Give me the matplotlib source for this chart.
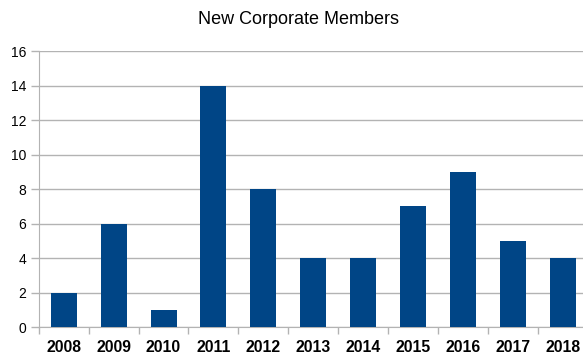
import matplotlib
matplotlib.use("Agg")
import matplotlib.pyplot as plt
import numpy as np

plt.rcParams["font.family"] = ["Liberation Sans", "DejaVu Sans"]

years = ["2008", "2009", "2010", "2011", "2012", "2013", "2014", "2015", "2016", "2017", "2018"]
members = [2, 6, 1, 14, 8, 4, 4, 7, 9, 5, 4]

BAR = "#004586"
GRID = "#b3b3b3"

fig = plt.figure(figsize=(5.83, 3.56), dpi=100)
# right edge of the plot area runs past the canvas in the original
ax = fig.add_axes([0.0664, 0.0806, 0.942, 0.776])

x = np.arange(len(years))
ax.bar(x, members, width=0.52, color=BAR, zorder=3)

ax.set_xlim(-0.5, len(years) - 0.5)
ax.set_ylim(0, 16)
ax.set_yticks(range(0, 17, 2))
ax.yaxis.grid(True, color=GRID, lw=1, zorder=0)

ax.set_xticks(x)
ax.set_xticklabels(years, fontweight="bold", fontsize=11.3)
ax.set_xticks(np.arange(-0.5, len(years), 1), minor=True)
ax.tick_params(axis="x", which="major", length=0, pad=9)
ax.tick_params(axis="x", which="minor", length=5, color=GRID, width=1)
ax.tick_params(axis="y", length=6, color=GRID, width=1, labelsize=10, pad=3)

for s in ["top", "right"]:
    ax.spines[s].set_visible(False)
ax.spines["left"].set_color(GRID)
ax.spines["bottom"].set_color(GRID)

fig.text(299 / 583, 1 - 20 / 356, "New Corporate Members", ha="center", va="center", fontsize=13)

fig.savefig("out.png", dpi=100)
